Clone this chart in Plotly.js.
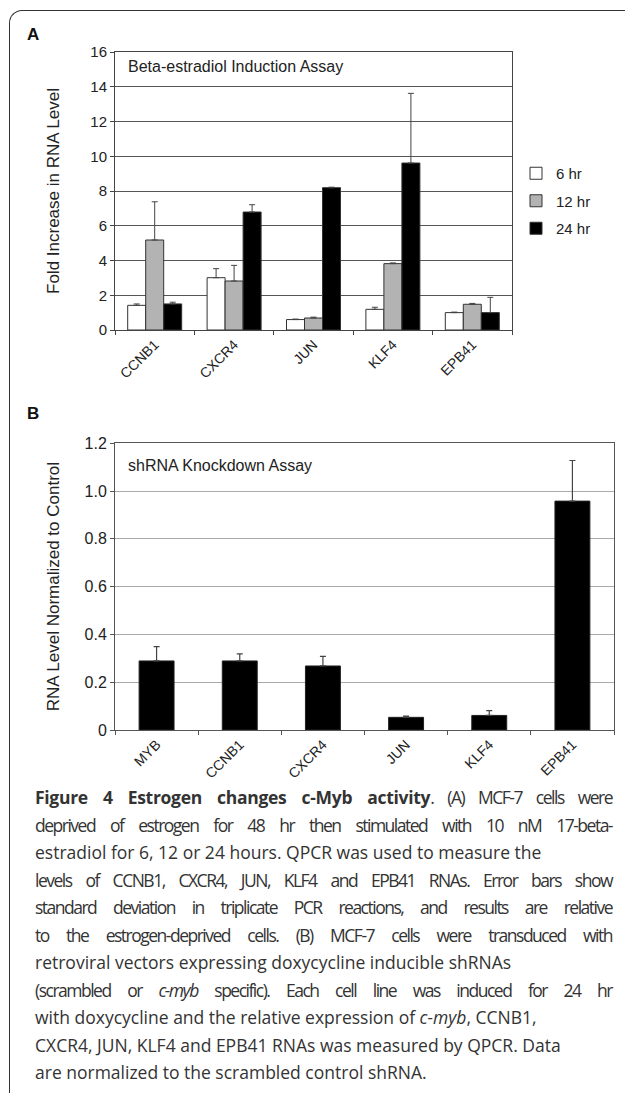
<!DOCTYPE html>
<html><head><meta charset="utf-8">
<script src="https://cdn.plot.ly/plotly-3.0.1.min.js"></script>
<style>
body{margin:0;background:#fff;width:625px;height:1093px;overflow:hidden;position:relative;}
#frame{position:absolute;left:9px;top:10px;width:700px;height:1200px;border-top:1.5px solid #333;border-left:1.5px solid #333;border-top-left-radius:13px;}
#chart{position:absolute;left:0;top:0;width:625px;height:1093px;}
#caption{position:absolute;left:35px;top:784px;width:577px;font-family:"Open Sans",sans-serif;font-size:17.5px;color:#333;}
.ln{height:27.5px;line-height:27.5px;white-space:nowrap;}
.j{text-align:justify;text-align-last:justify;}
.ln b{letter-spacing:-0.3px;}
</style></head>
<body>
<div id="frame"></div>
<div id="chart"></div>
<div id="caption">
<div class="ln j"><span><b>Figure 4 Estrogen changes c-Myb activity</b>. (A) MCF-7 cells were</span></div>
<div class="ln j"><span>deprived of estrogen for 48 hr then stimulated with 10 nM 17-beta-</span></div>
<div class="ln"><span>estradiol for 6, 12 or 24 hours. QPCR was used to measure the</span></div>
<div class="ln j"><span>levels of CCNB1, CXCR4, JUN, KLF4 and EPB41 RNAs. Error bars show</span></div>
<div class="ln j"><span>standard deviation in triplicate PCR reactions, and results are relative</span></div>
<div class="ln j"><span>to the estrogen-deprived cells. (B) MCF-7 cells were transduced with</span></div>
<div class="ln"><span>retroviral vectors expressing doxycycline inducible shRNAs</span></div>
<div class="ln j"><span>(scrambled or <i>c-myb</i> specific). Each cell line was induced for 24 hr</span></div>
<div class="ln"><span>with doxycycline and the relative expression of <i>c-myb</i>, CCNB1,</span></div>
<div class="ln"><span>CXCR4, JUN, KLF4 and EPB41 RNAs was measured by QPCR. Data</span></div>
<div class="ln"><span>are normalized to the scrambled control shRNA.</span></div>
</div>
<script>
const catsA = ['CCNB1','CXCR4','JUN','KLF4','EPB41'];
const series6 = [1.42, 3.01, 0.60, 1.19, 1.00];
const err6 = [0.08, 0.52, 0.03, 0.12, 0.03];
const series12 = [5.18, 2.82, 0.69, 3.82, 1.48];
const err12 = [2.20, 0.90, 0.05, 0.04, 0.05];
const series24 = [1.50, 6.79, 8.19, 9.61, 1.00];
const err24 = [0.10, 0.42, 0.03, 4.01, 0.88];
const seriesNames = ['6 hr','12 hr','24 hr'];
const ticksA = [0,2,4,6,8,10,12,14,16];

const catsB = ['MYB','CCNB1','CXCR4','JUN','KLF4','EPB41'];
const valsB = [0.289, 0.289, 0.268, 0.053, 0.061, 0.958];
const errB = [0.060, 0.030, 0.040, 0.005, 0.020, 0.170];
const ticksB = [0,0.2,0.4,0.6,0.8,1.0,1.2];
const tickTextB = ['0','0.2','0.4','0.6','0.8','1.0','1.2'];

const W = 625, H = 1093;
const px = v => v / W;
const py = v => 1 - v / H;
const zeros = n => new Array(n).fill(0);
const FAM = '"Liberation Sans", Arial, sans-serif';

function barA(name, vals, errs, fill, grp){
  return {type:'bar', name:name, x:catsA, y:vals, xaxis:'x', yaxis:'y',
    legendgroup:grp,
    marker:{color:fill, line:{color:'#333', width:1}},
    error_y:{type:'data', symmetric:false, array:errs, arrayminus:zeros(errs.length),
      color:'#444', thickness:1, width:3}};
}
const data = [
  barA(seriesNames[0], series6, err6, '#ffffff', 'g1'),
  barA(seriesNames[1], series12, err12, '#b3b3b3', 'g2'),
  barA(seriesNames[2], series24, err24, '#000000', 'g3'),
  {type:'bar', x:catsB, y:valsB, xaxis:'x2', yaxis:'y2', showlegend:false, width:0.42,
    marker:{color:'#000', line:{color:'#222', width:1}},
    error_y:{type:'data', symmetric:false, array:errB, arrayminus:zeros(errB.length),
      color:'#444', thickness:1.2, width:3}}
];

const layout = {
  width:W, height:H, autosize:false,
  margin:{l:0,r:0,t:0,b:0},
  paper_bgcolor:'rgba(0,0,0,0)', plot_bgcolor:'#fff',
  font:{family:FAM, size:14, color:'#222'},
  barmode:'group', bargap:0.32, bargroupgap:0,
  showlegend:true,
  legend:{x:px(516), y:py(157), xanchor:'left', yanchor:'top', traceorder:'grouped',
    tracegroupgap:5, font:{family:FAM, size:15, color:'#222'}, bgcolor:'rgba(0,0,0,0)'},
  xaxis:{domain:[px(115), px(512)], anchor:'y', type:'category', range:[-0.5,4.5],
    showline:true, linecolor:'#444', linewidth:1, mirror:true,
    ticks:'outside', tickson:'boundaries', ticklen:4, tickcolor:'#444',
    tickangle:-45, tickfont:{family:FAM, size:14, color:'#222'}, showgrid:false},
  yaxis:{domain:[py(330), py(52)], anchor:'x', range:[0,16], tickvals:ticksA,
    showgrid:true, gridcolor:'#555', gridwidth:1, zeroline:false,
    showline:true, linecolor:'#444', linewidth:1, mirror:true,
    ticks:'outside', ticklen:4, tickcolor:'#444', tickfont:{family:FAM, size:15, color:'#222'},
    title:{text:'Fold Increase in RNA Level', font:{family:FAM, size:17, color:'#222'}, standoff:26}},
  xaxis2:{domain:[px(115), px(614)], anchor:'y2', type:'category', range:[-0.5,5.5],
    showline:true, linecolor:'#555', linewidth:1, mirror:true,
    ticks:'outside', tickson:'boundaries', ticklen:4, tickcolor:'#555',
    tickangle:-45, tickfont:{family:FAM, size:14, color:'#222'}, showgrid:false},
  yaxis2:{domain:[py(730), py(443.3)], anchor:'x2', range:[0,1.2], tickvals:ticksB, ticktext:tickTextB,
    showgrid:true, gridcolor:'#aaa', gridwidth:1, zeroline:false,
    showline:true, linecolor:'#555', linewidth:1, mirror:true,
    ticks:'outside', ticklen:4, tickcolor:'#555', tickfont:{family:FAM, size:16, color:'#222'},
    title:{text:'RNA Level Normalized to Control', font:{family:FAM, size:17, color:'#222'}, standoff:20}},
  annotations:[
    {text:'<b>A</b>', x:px(25), y:py(34), xref:'paper', yref:'paper', xanchor:'left', yanchor:'middle', showarrow:false, font:{family:FAM, size:17, color:'#111'}},
    {text:'<b>B</b>', x:px(25), y:py(414), xref:'paper', yref:'paper', xanchor:'left', yanchor:'middle', showarrow:false, font:{family:FAM, size:17, color:'#111'}},
    {text:'Beta-estradiol Induction Assay', x:px(126), y:py(67), xref:'paper', yref:'paper', xanchor:'left', yanchor:'middle', showarrow:false, font:{family:FAM, size:16, color:'#222'}},
    {text:'shRNA Knockdown Assay', x:px(126), y:py(465), xref:'paper', yref:'paper', xanchor:'left', yanchor:'middle', showarrow:false, font:{family:FAM, size:16, color:'#222'}}
  ]
};
Plotly.newPlot('chart', data, layout, {staticPlot:true, displayModeBar:false});

function fitCaption(){
  const lines = document.querySelectorAll('#caption .ln');
  lines.forEach(el => {
    const span = el.firstElementChild;
    let ls = 0;
    el.style.letterSpacing = '0px';
    while (span.getBoundingClientRect().width > 576 && ls > -1.5) {
      ls -= 0.05;
      el.style.letterSpacing = ls.toFixed(2) + 'px';
    }
  });
}
fitCaption();
if (document.fonts && document.fonts.ready) document.fonts.ready.then(fitCaption);
</script>
</body></html>
